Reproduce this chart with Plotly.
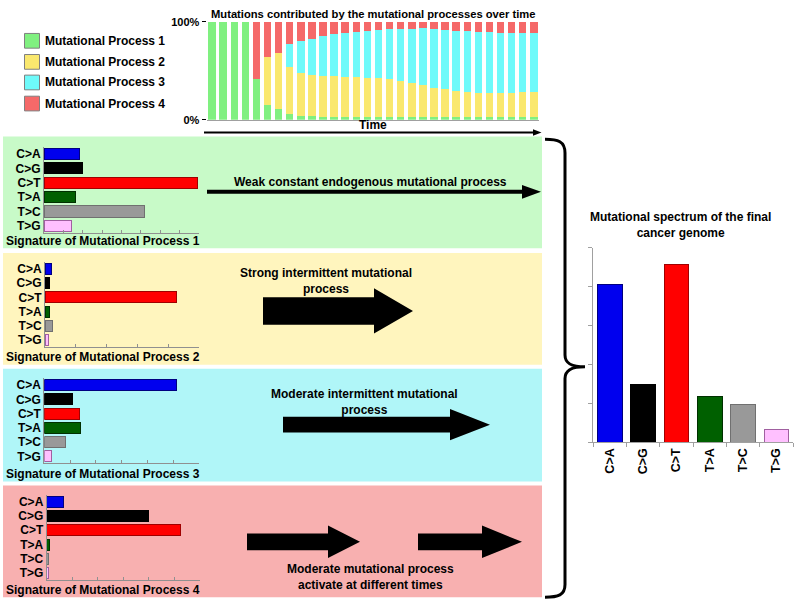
import plotly.graph_objects as go

W, H = 800, 613
FONT = "Liberation Sans, Arial, sans-serif"

# ---------------- data ----------------
process_names = ["Mutational Process 1", "Mutational Process 2",
                 "Mutational Process 3", "Mutational Process 4"]
process_colors = ["#80F080", "#FAE86E", "#6EFAFA", "#F56969"]
panel_colors = ["#C8FAC8", "#FFF5BE", "#B0F6F8", "#F8B0B0"]

time_points = list(range(1, 31))
p1_share = [100, 100, 100, 100, 42, 15, 10.5, 5.5, 4, 3.4, 2.7, 2.7, 2.7, 2.7, 2.7,
            2.7, 2.7, 2.7, 2.7, 2.7, 2.7, 2.7, 2.7, 2.7, 2.7, 2.7, 2.7, 2.7, 2.7, 2.7]
p2_share = [0, 0, 0, 0, 0, 49, 57.5, 48.5, 44, 42, 42, 41.6, 41.3, 41, 40.3,
            40.3, 39.3, 36.9, 34.8, 32.5, 30.1, 28.4, 26.7, 25.6, 24.6, 24.6, 24.6, 24.9, 25.3, 25.3]
p3_share = [0, 0, 0, 0, 0, 0, 0, 23, 32, 36.5, 40.6, 43, 44.7, 46.1, 47.8,
            48.5, 50.5, 52.9, 55, 58, 59.7, 60.4, 61.4, 62.1, 62.5, 62.1, 61.4, 61.1, 60.7, 60.7]
p4_share = [0, 0, 0, 0, 58, 36, 32, 23, 20, 18.1, 14.7, 12.7, 11.3, 10.2, 9.2,
            8.5, 7.5, 7.5, 7.5, 6.8, 7.5, 8.5, 9.2, 9.6, 10.2, 10.6, 11.3, 11.3, 11.3, 11.3]
shares = [p1_share, p2_share, p3_share, p4_share]

mutation_types = ["C>A", "C>G", "C>T", "T>A", "T>C", "T>G"]
mut_colors = ["#0000EE", "#000000", "#FF0000", "#006000", "#999999", "#FFC0FF"]
mut_edges = ["#000080", "#000000", "#A00000", "#003000", "#707070", "#A060A0"]

sig1 = [9.2, 9.9, 39.6, 8.2, 26.0, 7.2]
sig2 = [4.4, 2.6, 85.4, 2.8, 5.0, 2.4]
sig3 = [51.2, 11.0, 13.7, 14.1, 8.3, 2.9]
sig4 = [6.5, 39.8, 52.2, 0.9, 0.8, 0.6]
signatures = [sig1, sig2, sig3, sig4]
sig_ranges = [40, 100, 60, 60]
sig_dticks = [5, 20, 10, 10]

final_spectrum = [32.4, 11.9, 36.6, 9.4, 7.8, 2.6]

panel_texts = ["Weak constant endogenous mutational process",
               "Strong intermittent mutational<br>process",
               "Moderate intermittent mutational<br>process",
               "Moderate mutational process<br>activate at different times"]

# ---------------- helpers (pixel -> paper) ----------------
def px(x):
    return x / W

def py(y):
    return 1 - y / H

def dom_x(a, b):
    return [px(a), px(b)]

def dom_y(top, bottom):
    return [py(bottom), py(top)]

def path(points, close=True):
    s = "M " + " L ".join(f"{px(x):.5f},{py(y):.5f}" for x, y in points)
    return s + (" Z" if close else "")

fig = go.Figure()
shapes = []
annotations = []

def text(x, y, t, size=12, xanchor="center", yanchor="middle"):
    annotations.append(dict(x=px(x), y=py(y), xref="paper", yref="paper", text=t,
                            showarrow=False, xanchor=xanchor, yanchor=yanchor,
                            font=dict(family=FONT, size=size, color="black", weight="bold")))

# ---------------- top stacked chart ----------------
for name, col, vals in zip(process_names, process_colors, shares):
    fig.add_trace(go.Bar(x=time_points, y=vals, name=name, marker=dict(color=col, line=dict(width=0)),
                         xaxis="x", yaxis="y", showlegend=False))

layout_axes = dict(
    xaxis=dict(domain=dom_x(206.5, 539.4), range=[0.5, 30.5], showticklabels=False, ticks="",
               showgrid=False, zeroline=False, showline=True, linecolor="#A0A0A0", linewidth=1,
               anchor="y", fixedrange=True),
    yaxis=dict(domain=dom_y(16, 116), range=[0, 100], tickvals=[0, 100], ticktext=["0%", "100%"],
               ticks="outside", ticklen=4, tickcolor="black", showgrid=False, zeroline=False,
               showline=False, anchor="x",
               tickfont=dict(family=FONT, size=11, color="black", weight="bold")),
)

# legend (manual)
leg_y = [35.5, 57, 78, 99.5]
for name, col, yy in zip(process_names, process_colors, leg_y):
    shapes.append(dict(type="rect", xref="paper", yref="paper", x0=px(24.5), x1=px(39.5),
                       y0=py(yy + 7.5), y1=py(yy - 7.5), fillcolor=col,
                       line=dict(color="#808080", width=1)))
    text(43, yy, name, 12, xanchor="left")

text(373, 8.5, "Mutations contributed by the mutational processes over time", 11.2)
text(373, 121, "Time", 12)
# time arrow
shapes.append(dict(type="line", xref="paper", yref="paper", x0=px(204), x1=px(535),
                   y0=py(129), y1=py(129), line=dict(color="black", width=2)))
shapes.append(dict(type="path", xref="paper", yref="paper",
                   path=path([(533, 125.7), (541.5, 129), (533, 132.3)]),
                   fillcolor="black", line=dict(color="black", width=0)))

# ---------------- panels ----------------
panel_boxes = [(133, 247), (252, 366), (370, 485), (489, 603)]
for (t, b), col in zip(panel_boxes, panel_colors):
    shapes.append(dict(type="rect", xref="paper", yref="paper", layer="below",
                       x0=px(3), x1=px(542), y0=py(b), y1=py(t), fillcolor=col, line=dict(width=0)))

sig_xdom = [(44, 199), (45, 199), (44.3, 199), (46.7, 200)]
sig_ydom = [(143.7, 231.6), (261.1, 347.9), (379.4, 466.6), (498.4, 585.6)]
sig_title_y = [239.5, 358.5, 477.5, 595.5]
for i, sig in enumerate(signatures):
    k = i + 2
    fig.add_trace(go.Bar(y=mutation_types, x=sig, orientation="h",
                         marker=dict(color=mut_colors, line=dict(color=mut_edges, width=1)),
                         xaxis=f"x{k}", yaxis=f"y{k}", showlegend=False, width=0.77))
    layout_axes[f"xaxis{k}"] = dict(domain=dom_x(*sig_xdom[i]), range=[0, sig_ranges[i]],
                                   dtick=sig_dticks[i], tick0=0, showticklabels=False,
                                   ticks="inside", ticklen=3, tickcolor="#909090",
                                   showline=True, linecolor="#909090", linewidth=1,
                                   showgrid=False, zeroline=False, anchor=f"y{k}")
    layout_axes[f"yaxis{k}"] = dict(domain=dom_y(*sig_ydom[i]), categoryorder="array",
                                   categoryarray=mutation_types, autorange="reversed",
                                   showline=True, linecolor="#909090", linewidth=1, ticks="",
                                   showgrid=False, zeroline=False, anchor=f"x{k}",
                                   tickfont=dict(family=FONT, size=12, color="black", weight="bold"))
    text(103, sig_title_y[i], f"Signature of {process_names[i]}", 12)

# panel arrows
# panel 1: thin arrow
shapes.append(dict(type="line", xref="paper", yref="paper", x0=px(207), x1=px(524),
                   y0=py(189.5), y1=py(189.5), line=dict(color="black", width=4)))
shapes.append(dict(type="path", xref="paper", yref="paper",
                   path=path([(522, 182.5), (541, 189.5), (522, 196.5)]),
                   fillcolor="black", line=dict(width=0)))

def fat_arrow(x0, xh, xt, yt, yb, ht, hb):
    ym = (yt + yb) / 2
    return path([(x0, yt), (xh, yt), (xh, ht), (xt, ym), (xh, hb), (xh, yb), (x0, yb)])

for p in [fat_arrow(263, 374, 413, 297, 325, 288, 334),
          fat_arrow(283, 450, 490, 419, 435, 411, 443),
          fat_arrow(247, 328, 360, 538, 555, 530, 563),
          fat_arrow(418, 482, 522, 538, 555, 530, 563)]:
    shapes.append(dict(type="path", xref="paper", yref="paper", path=p,
                       fillcolor="black", line=dict(width=0)))

text(370, 180, panel_texts[0], 12)
text(326, 281, panel_texts[1], 12)
text(364, 404, panel_texts[2], 12)
text(370, 582, panel_texts[3], 12)

# brace
brace = ("M {a} C {b} {c} {d} L {e} C {f} {g} {h} C {i} {j} {k} L {l} C {m} {n} {o}").format(
    a=f"{px(545)},{py(136)}", b=f"{px(558)},{py(136)}", c=f"{px(565)},{py(138)}",
    d=f"{px(565)},{py(150)}", e=f"{px(565)},{py(356)}", f=f"{px(565)},{py(365)}",
    g=f"{px(572)},{py(368)}", h=f"{px(585)},{py(368)}", i=f"{px(572)},{py(368)}",
    j=f"{px(565)},{py(371)}", k=f"{px(565)},{py(380)}", l=f"{px(565)},{py(590)}",
    m=f"{px(565)},{py(601)}", n=f"{px(558)},{py(603)}", o=f"{px(545)},{py(603)}")
shapes.append(dict(type="path", xref="paper", yref="paper", path=brace,
                   line=dict(color="black", width=3)))

# ---------------- final spectrum ----------------
fig.add_trace(go.Bar(x=mutation_types, y=final_spectrum,
                     marker=dict(color=mut_colors, line=dict(color=mut_edges, width=1)),
                     xaxis="x6", yaxis="y6", showlegend=False, width=0.74))
layout_axes["xaxis6"] = dict(domain=dom_x(593, 793), showline=True, linecolor="#A0A0A0",
                             ticks="outside", ticklen=4, tickcolor="#A0A0A0", tickson="boundaries",
                             tickangle=-90, showgrid=False, zeroline=False, anchor="y6",
                             tickfont=dict(family=FONT, size=12.5, color="black", weight="bold"))
layout_axes["yaxis6"] = dict(domain=dom_y(246.7, 445), range=[0, 40], dtick=8, tick0=0,
                             showticklabels=False, ticks="outside", ticklen=4, tickcolor="#A0A0A0",
                             showline=True, linecolor="#A0A0A0", showgrid=False, zeroline=False,
                             anchor="x6")
text(680, 223, "Mutational spectrum of the final<br>cancer genome", 12)

fig.update_layout(width=W, height=H, margin=dict(l=0, r=0, t=0, b=0),
                  paper_bgcolor="white", plot_bgcolor="rgba(0,0,0,0)",
                  barmode="stack", bargap=0.33, showlegend=False,
                  shapes=shapes, annotations=annotations, **layout_axes)

fig.write_html("out.html", config={"displayModeBar": False},
               post_script="document.body.style.margin='0px';"
                           "document.body.style.overflow='hidden';"
                           "document.documentElement.style.overflow='hidden';")
